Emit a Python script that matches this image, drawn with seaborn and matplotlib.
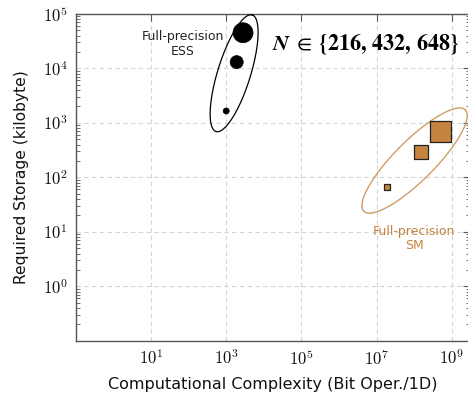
import numpy as np
import pandas as pd
import matplotlib
matplotlib.use("Agg")
import matplotlib.pyplot as plt
import matplotlib.ticker as mticker
import seaborn as sns

# Full-precision ESS (circles) and SM (squares) for N in {216, 432, 648}
n_values = [216, 432, 648]
ess_complexity = [1.0e3, 1.9e3, 2.8e3]
ess_storage = [1.65e3, 1.3e4, 4.5e4]
sm_complexity = [1.9e7, 1.5e8, 5.0e8]
sm_storage = [66, 290, 690]

x_ticks = [1e1, 1e3, 1e5, 1e7, 1e9]
y_ticks = [1e0, 1e1, 1e2, 1e3, 1e4, 1e5]

ess_df = pd.DataFrame({"complexity": ess_complexity, "storage": ess_storage, "N": n_values})
sm_df = pd.DataFrame({"complexity": sm_complexity, "storage": sm_storage, "N": n_values})

sns.set_theme(style="white")
plt.rcParams["font.family"] = ["DejaVu Sans"]
plt.rcParams["mathtext.fontset"] = "cm"

ORANGE = "#c5833f"
ORANGE_LIGHT = "#d19c68"
SPINE = "#555555"

fig = plt.figure(figsize=(4.68, 3.95), dpi=100)
ax = fig.add_axes([0.162, 0.137, 0.842, 0.828])
ax.set_xscale("log")
ax.set_yscale("log")
ax.set_xlim(10 ** -1, 10 ** 9.48)
ax.set_ylim(10 ** -1, 10 ** 5)

sns.scatterplot(data=ess_df, x="complexity", y="storage", size="N",
                sizes={216: 19, 432: 88, 648: 207}, color="black",
                marker="o", edgecolor="black", linewidth=0.5,
                legend=False, ax=ax, zorder=4, clip_on=False)
sns.scatterplot(data=sm_df, x="complexity", y="storage", size="N",
                sizes={216: 22, 432: 100, 648: 245}, color=ORANGE,
                marker="s", edgecolor="#222222", linewidth=0.9,
                legend=False, ax=ax, zorder=4)


def log_ellipse(center, v1, v2, n=200):
    """Ellipse traced in log10 space from two conjugate half-axis vectors."""
    t = np.linspace(0, 2 * np.pi, n)
    lx = center[0] + v1[0] * np.cos(t) + v2[0] * np.sin(t)
    ly = center[1] + v1[1] * np.cos(t) + v2[1] * np.sin(t)
    return 10 ** lx, 10 ** ly


ex, ey = log_ellipse((3.21, 3.91), (0.48, 1.07), (0.42, -0.085))
ax.plot(ex, ey, color="black", lw=0.9, zorder=3, clip_on=False)
sx, sy = log_ellipse((8.01, 2.308), (1.35, 0.93), (0.375, -0.259))
ax.plot(sx, sy, color=ORANGE_LIGHT, lw=1.0, zorder=3, clip_on=False)

ax.text(10 ** 1.85, 10 ** 4.45, "Full-precision\nESS", ha="center", va="center",
        fontsize=9, color="#222222", linespacing=1.15)
ax.text(10 ** 8.0, 10 ** 0.88, "Full-precision\nSM", ha="center", va="center",
        fontsize=9, color=ORANGE, linespacing=1.15)
ax.text(10 ** 6.7, 10 ** 4.45,
        r"$\mathbfit{N}\;\in\;\mathbf{\{216,\,432,\,648\}}$",
        ha="center", va="center", fontsize=15.8, color="black",
        math_fontfamily="stix")

ax.set_xticks(x_ticks)
ax.set_yticks(y_ticks)
pow_fmt = mticker.FuncFormatter(lambda v, _: r"$10^{%d}$" % round(np.log10(v)))
ax.xaxis.set_major_formatter(pow_fmt)
ax.yaxis.set_major_formatter(pow_fmt)
ax.xaxis.set_minor_locator(mticker.NullLocator())
ax.yaxis.set_minor_locator(mticker.LogLocator(base=10, subs=np.arange(2, 10), numticks=20))
ax.yaxis.set_minor_formatter(mticker.NullFormatter())

ax.tick_params(axis="both", which="major", direction="in", length=5, width=0.8,
               color=SPINE, labelsize=12, labelcolor="#111111",
               top=True, right=True, pad=6)
ax.tick_params(axis="y", which="minor", direction="in", length=3, width=0.6,
               color=SPINE, left=True, right=True)

ax.grid(True, which="major", color="#d4d4d4", linestyle=(0, (4, 3)), lw=0.8)
ax.set_axisbelow(True)
for sp in ax.spines.values():
    sp.set_color(SPINE)
    sp.set_linewidth(1.0)

ax.set_xlabel("Computational Complexity (Bit Oper./1D)", fontsize=11.5,
              labelpad=6, color="#111111")
ax.set_ylabel("Required Storage (kilobyte)", fontsize=11.2, labelpad=10,
              color="#111111")

fig.savefig("out.png", dpi=100)
